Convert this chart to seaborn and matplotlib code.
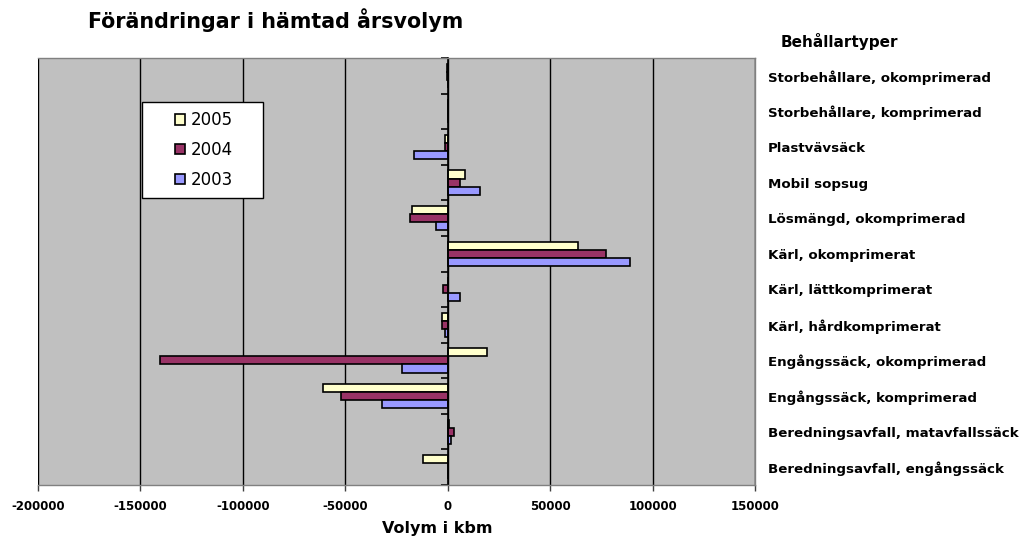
import matplotlib
matplotlib.use("Agg")
import matplotlib.pyplot as plt
import seaborn as sns
import pandas as pd
from matplotlib.ticker import MultipleLocator, FixedLocator
from matplotlib.patches import Rectangle

categories = [
    "Storbehållare, okomprimerad",
    "Storbehållare, komprimerad",
    "Plastvävsäck",
    "Mobil sopsug",
    "Lösmängd, okomprimerad",
    "Kärl, okomprimerat",
    "Kärl, lättkomprimerat",
    "Kärl, hårdkomprimerat",
    "Engångssäck, okomprimerad",
    "Engångssäck, komprimerad",
    "Beredningsavfall, matavfallssäck",
    "Beredningsavfall, engångssäck",
]
years = ["2005", "2004", "2003"]
v2005 = [-500, 0, -1500, 8300, -17500, 63500, 0, -3000, 19000, -61000, 500, -12000]
v2004 = [-500, 0, -1500, 6000, -18500, 77500, -2500, -3000, -140500, -52000, 3000, 0]
v2003 = [0, 0, -16500, 16000, -5500, 89000, 6000, -1500, -22500, -32000, 1500, 0]
colors = ["#FFFFCC", "#993366", "#9999FF"]

rows = []
for y, vals in zip(years, [v2005, v2004, v2003]):
    for c, v in zip(categories, vals):
        rows.append({"cat": c, "year": y, "value": v})
df = pd.DataFrame(rows)

sns.set_theme(style="white")
plt.rcParams["font.family"] = ["DejaVu Sans"]
plt.rcParams["axes.unicode_minus"] = False
plt.rcParams["text.color"] = "black"
plt.rcParams["axes.labelcolor"] = "black"
plt.rcParams["xtick.color"] = "black"
plt.rcParams["ytick.color"] = "black"

fig = plt.figure(figsize=(10.26, 5.38), dpi=100)
ax = fig.add_axes([38/1026, 1-485/538, (755-38)/1026, (485-58)/538])
ax.set_facecolor("#C0C0C0")

sns.barplot(data=df, y="cat", x="value", hue="year", order=categories,
            hue_order=years, palette=colors, orient="h", width=0.68,
            saturation=1, edgecolor="black", linewidth=1.2, ax=ax,
            errorbar=None)

ax.set_xlim(-200000, 150000)
ax.xaxis.set_major_locator(MultipleLocator(50000))
ax.ticklabel_format(axis="x", style="plain", useOffset=False)
ax.set_axisbelow(True)
ax.grid(axis="x", color="black", linewidth=1)
ax.grid(axis="y", visible=False)
ax.tick_params(axis="x", labelsize=8.5, length=4, width=1, color="#404040",
               direction="out", pad=7, bottom=True)
for lbl in ax.get_xticklabels():
    lbl.set_fontweight("bold")
ax.set_xlabel("")
ax.set_ylabel("")
fig.text(437/1026, 1-528/538, "Volym i kbm", fontsize=11.5,
         fontweight="bold", ha="center", va="center")

# y axis at zero with boundary ticks, labels on the right
ax.spines["left"].set_position(("data", 0))
ax.spines["left"].set_color("black")
ax.spines["left"].set_linewidth(1.2)
for s in ["top", "bottom", "right"]:
    ax.spines[s].set_color("#808080")
    ax.spines[s].set_linewidth(1)
ax.yaxis.set_minor_locator(FixedLocator([i + 0.5 for i in range(-1, len(categories))]))
ax.tick_params(axis="y", which="minor", left=True, right=False, length=5,
               width=1.2, color="black", direction="out")
ax.tick_params(axis="y", which="major", left=False, right=False, length=0,
               labelleft=False, labelright=True, labelsize=9.6, pad=9)
for lbl in ax.get_yticklabels():
    lbl.set_fontweight("bold")

# legend box
ax.add_patch(Rectangle((142/1026, 1-198/538), 121/1026, 96/538,
                       transform=fig.transFigure, facecolor="white",
                       edgecolor="black", linewidth=1, clip_on=False, zorder=4))
leg = ax.legend(loc="center", bbox_to_anchor=(204/1026, 1-150/538),
                bbox_transform=fig.transFigure, fontsize=12, frameon=False,
                handlelength=0.6, handleheight=0.6, handletextpad=0.4,
                labelspacing=0.7, borderpad=0, borderaxespad=0)
leg.set_zorder(5)

fig.text(88/1026, 1-20/538, "Förändringar i hämtad årsvolym", fontsize=14.9,
         fontweight="bold", ha="left", va="center")
fig.text(781/1026, 1-42/538, "Behållartyper", fontsize=11,
         fontweight="bold", ha="left", va="center")

fig.savefig("out.png", dpi=100)
